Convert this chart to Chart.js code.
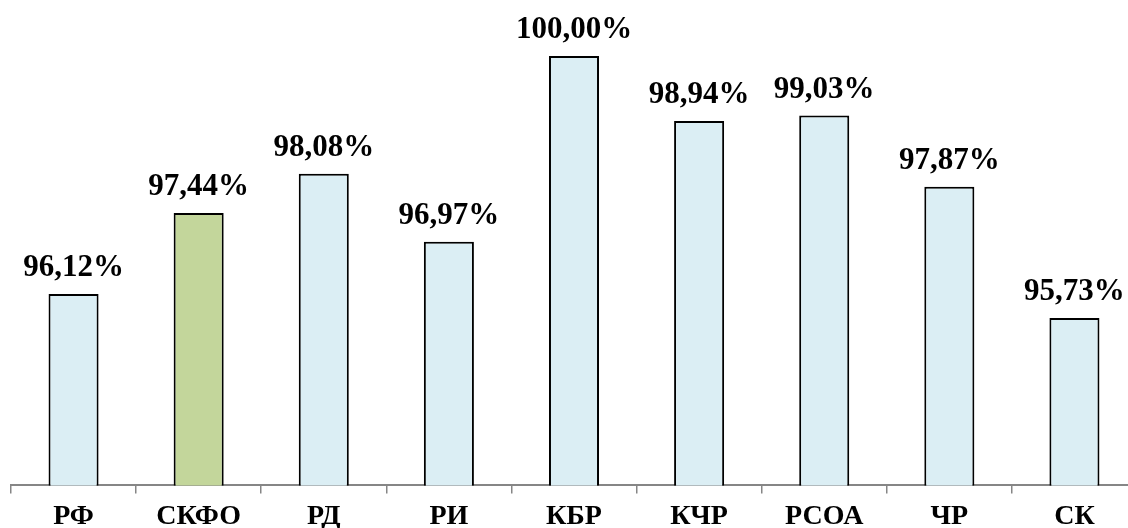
<!DOCTYPE html>
<html>
<head>
<meta charset="utf-8">
<script src="https://cdn.jsdelivr.net/npm/chart.js@4"></script>
<style>
  html, body { margin: 0; background: #fff; overflow: hidden; }
  #wrap { width: 1137px; height: 541px; }
</style>
</head>
<body>
<div id="wrap"><canvas id="chart"></canvas></div>
<script>
const regions = ['РФ', 'СКФО', 'РД', 'РИ', 'КБР', 'КЧР', 'РСОА', 'ЧР', 'СК'];
const shares = [96.12, 97.44, 98.08, 96.97, 100.00, 98.94, 99.03, 97.87, 95.73];
const barColors = ['#dbeef4', '#c3d69b', '#dbeef4', '#dbeef4', '#dbeef4', '#dbeef4', '#dbeef4', '#dbeef4', '#dbeef4'];

const valueLabels = {
    id: 'valueLabels',
    afterDatasetsDraw(chart) {
        const ctx = chart.ctx;
        const meta = chart.getDatasetMeta(0);
        ctx.save();
        ctx.font = 'bold 31px "Liberation Serif"';
        ctx.fillStyle = '#000';
        ctx.textAlign = 'center';
        ctx.textBaseline = 'alphabetic';
        meta.data.forEach((bar, i) => {
            const text = shares[i].toFixed(2).replace('.', ',') + '%';
            ctx.fillText(text, bar.x, bar.y - 18);
        });
        ctx.restore();
    }
};

new Chart(document.getElementById('chart'), {
    type: 'bar',
    data: {
        labels: regions,
        datasets: [{
            data: shares,
            backgroundColor: barColors,
            borderColor: '#000',
            borderWidth: 2,
            borderSkipped: 'bottom',
            barPercentage: 0.4,
            categoryPercentage: 1
        }]
    },
    options: {
        responsive: true,
        maintainAspectRatio: false,
        animation: false,
        layout: { padding: { left: 11, right: 0, top: 56, bottom: 0 } },
        scales: {
            x: {
                grid: {
                    offset: true,
                    drawOnChartArea: false,
                    tickLength: 8,
                    color: '#868686',
                    lineWidth: 1.5
                },
                border: { color: '#868686', width: 2 },
                ticks: {
                    color: '#000',
                    font: { family: '"Liberation Serif"', size: 28, weight: 'bold' },
                    padding: 7
                }
            },
            y: {
                display: false,
                min: 93,
                max: 100
            }
        },
        plugins: {
            legend: { display: false },
            tooltip: { enabled: false }
        }
    },
    plugins: [valueLabels]
});
</script>
</body>
</html>
